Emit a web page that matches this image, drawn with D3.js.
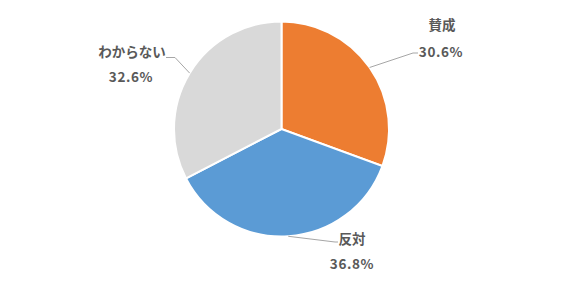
<!DOCTYPE html>
<html>
<head>
<meta charset="utf-8">
<script src="https://cdn.jsdelivr.net/npm/d3@7"></script>
<style>
  body { margin: 0; background: #fff; }
  text { font-family: "Noto Sans CJK JP", "Noto Sans", sans-serif; font-weight: bold; fill: #595959; font-size: 13.5px; }
  text.pct { letter-spacing: 0.6px; }
</style>
</head>
<body>
<svg width="577" height="283"></svg>
<script>
const labels = ["賛成", "反対", "わからない"];
const values = [30.6, 36.8, 32.6];
const colors = ["#ED7D31", "#5B9BD5", "#D9D9D9"];

// label spots (name, percent) and leader line bend + end
const labelPos = [
  { name: [442, 30], pct: [441, 56.5], line: [[413, 53], [418, 53]] },
  { name: [352, 244], pct: [352, 268.5], line: [[335, 242], [338, 242]] },
  { name: [132, 56.5], pct: [131, 81.5], line: [[175, 57.5], [166, 57.5]] }
];

const cx = 281.5, cy = 129, r = 107.5;
const svg = d3.select("svg");
const g = svg.append("g").attr("transform", `translate(${cx},${cy})`);

const pie = d3.pie().sort(null).value(d => d)(values);
const arc = d3.arc().innerRadius(0).outerRadius(r);

g.selectAll("path")
  .data(pie)
  .enter().append("path")
  .attr("d", arc)
  .attr("fill", (d, i) => colors[i])
  .attr("stroke", "#fff")
  .attr("stroke-width", 2);

// leader lines
const edgeArc = d3.arc().innerRadius(r).outerRadius(r);
pie.forEach((d, i) => {
  const [ex, ey] = edgeArc.centroid(d);
  const p = labelPos[i];
  const pts = [[ex + cx, ey + cy], p.line[0], p.line[1]];
  svg.append("polyline")
    .attr("points", pts.map(q => q.join(",")).join(" "))
    .attr("fill", "none")
    .attr("stroke", "#A6A6A6")
    .attr("stroke-width", 1);
});

labelPos.forEach((p, i) => {
  svg.append("text").attr("x", p.name[0]).attr("y", p.name[1])
    .attr("text-anchor", "middle").text(labels[i]);
  svg.append("text").attr("class", "pct").attr("x", p.pct[0]).attr("y", p.pct[1])
    .attr("text-anchor", "middle").text(values[i].toFixed(1) + "%");
});
</script>
</body>
</html>
